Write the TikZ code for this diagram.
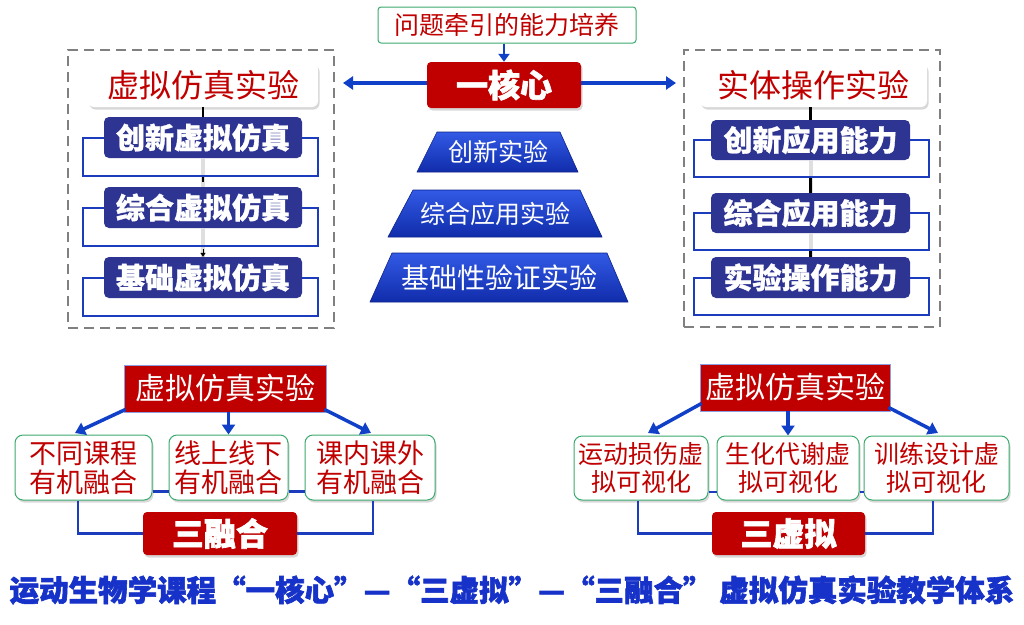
\documentclass[tikz,border=0pt]{standalone}
\usepackage{fontspec}
\setmainfont{Noto Sans CJK SC}
\usetikzlibrary{arrows.meta,shadows,calc}
\definecolor{dred}{RGB}{192,0,0}
\definecolor{navy}{RGB}{46,52,146}
\definecolor{bblue}{RGB}{28,60,190}
\definecolor{ablue}{RGB}{16,64,200}
\definecolor{gbord}{RGB}{60,170,110}
\definecolor{tblue}{RGB}{22,50,200}
\definecolor{trapt}{RGB}{50,90,230}
\definecolor{trapb}{RGB}{16,44,170}
\begin{document}
\begin{tikzpicture}[x=1pt,y=-1pt,
  shad/.style={drop shadow={opacity=0.3,shadow xshift=1.5pt,shadow yshift=-2.5pt}},
  qbox/.style={draw=gbord,line width=1pt,fill=white,rounded corners=3pt,text=dred,inner sep=0pt,font=\fontsize{25}{28}\selectfont},
  corebox/.style={fill=dred,rounded corners=4pt,text=white,inner sep=0pt,shad,font=\fontsize{32}{34}\selectfont\bfseries\addfontfeatures{FakeBold=2}},
  titlebox/.style={fill=white,rounded corners=6pt,shad,text=dred,inner sep=0pt,font=\fontsize{32}{34}\selectfont},
  navybox/.style={fill=navy,rounded corners=5pt,text=white,inner sep=0pt,font=\fontsize{29}{32}\selectfont\bfseries\addfontfeatures{FakeBold=1}},
  bracket/.style={draw=bblue,line width=2pt},
  frame/.style={draw=gray,line width=1.8pt,dash pattern=on 10pt off 6pt},
  redhead/.style={fill=dred,draw=bblue!50,line width=0.8pt,text=white,inner sep=0pt,font=\fontsize{30}{32}\selectfont},
  gbox/.style={draw=gbord,line width=1pt,fill=white,rounded corners=8pt,shad,text=dred,align=center,inner sep=0pt,font=\fontsize{25}{28}\selectfont},
  fusebox/.style={fill=dred,rounded corners=4pt,shad,text=white,inner sep=0pt,font=\fontsize{32}{34}\selectfont\bfseries\addfontfeatures{FakeBold=2}},
  arr/.style={draw=ablue,line width=3.5pt,-{Triangle[length=10pt,width=13pt]}},
  trap/.style={top color=trapt,bottom color=trapb,draw=trapb!80!black,line width=0.6pt},
  traptext/.style={text=white,inner sep=0pt,font=\fontsize{25}{28}\selectfont},
  vlink/.style={draw=black,line width=2.5pt},
  vfaint/.style={draw=gray!25,line width=4pt}
]
\useasboundingbox (0,0) rectangle (1024,624);
\fill[white] (0,0) rectangle (1024,624);

% ---------- top centre ----------
\node[qbox,minimum width=258pt,minimum height=36pt] (q) at (507,25) {问题牵引的能力培养};
\node[corebox,minimum width=154pt,minimum height=46pt] (core) at (504,85) {一核心};
\draw[draw=ablue,line width=2pt,-{Triangle[length=8pt,width=11pt]}] (q.south -| core.north) -- (core.north);
\coordinate (la) at (343,83);
\coordinate (ra) at (676,83);
\draw[arr] (core.west |- la) -- (la);
\draw[arr] (core.east |- ra) -- (ra);

% ---------- left column ----------
\node[frame,minimum width=266pt,minimum height=278pt,inner sep=0pt] (lframe) at (201,189) {};
\node[titlebox,minimum width=230pt,minimum height=44pt] (lt) at (203,85) {虚拟仿真实验};
\node[navybox,minimum width=198pt,minimum height=41pt] (lb1) at (203,137.5) {创新虚拟仿真};
\node[navybox,minimum width=198pt,minimum height=41pt] (lb2) at (203,207.5) {综合虚拟仿真};
\node[navybox,minimum width=198pt,minimum height=41pt] (lb3) at (203,277.5) {基础虚拟仿真};
\draw[vlink] (lt.south) -- (lb1.north);
\draw[vfaint] (lb1.south) -- (lb2.north);
\draw[vlink] ($(lb1.south)+(0,17)$) -- ($(lb1.south)+(0,24)$);
\draw[vfaint] (lb2.south) -- (lb3.north);
\draw[draw=black,line width=1pt,-{Triangle[length=4pt,width=5pt]}] ($(lb2.south)+(0,21)$) -- (lb3.north);
\foreach \b in {lb1,lb2,lb3}{
  \draw[bracket] (\b.west) -- ++(-21,0) -- ++(0,38) -- ++(235,0) -- ++(0,-38) -- (\b.east);
}

% ---------- right column ----------
\node[frame,minimum width=256pt,minimum height=277pt,inner sep=0pt] (rframe) at (812,188.5) {};
\node[titlebox,minimum width=227pt,minimum height=44pt] (rt) at (813.5,85) {实体操作实验};
\node[navybox,minimum width=199pt,minimum height=40pt] (rb1) at (810.5,140) {创新应用能力};
\node[navybox,minimum width=199pt,minimum height=40pt] (rb2) at (810.5,213) {综合应用能力};
\node[navybox,minimum width=199pt,minimum height=41pt] (rb3) at (810.5,277.5) {实验操作能力};
\draw[vlink] (rt.south -| rb1.north) -- (rb1.north);
\draw[vfaint] (rb1.south) -- (rb2.north);
\draw[vlink] ($(rb1.south)+(0,17)$) -- (rb2.north);
\draw[vfaint] (rb2.south) -- (rb3.north);
\draw[vlink] ($(rb2.south)+(0,17)$) -- (rb3.north);
\foreach \b in {rb1,rb2,rb3}{
  \draw[bracket] (\b.west) -- ++(-17,0) -- ++(0,37) -- ++(235,0) -- ++(0,-37) -- (\b.east);
}

% ---------- centre pyramid ----------
\shade[trap] (437,132) -- (560,132) -- (578,172) -- (417,172) -- cycle;
\node[traptext] (t1) at (498,152) {创新实验};
\shade[trap] (413,190) -- (580,190) -- (602,237) -- (388,237) -- cycle;
\node[traptext] (t2) at (495,213.5) {综合应用实验};
\shade[trap] (392,253) -- (607,253) -- (628,302) -- (370,302) -- cycle;
\node[traptext,font=\fontsize{28}{30}\selectfont] (t3) at (499,277.5) {基础性验证实验};

% ---------- bottom left ----------
\node[redhead,minimum width=202pt,minimum height=47pt] (bl) at (225,388.5) {虚拟仿真实验};
\node[gbox,minimum width=137pt,minimum height=65pt,font=\fontsize{27}{29}\selectfont] (g1) at (83.5,467.5) {不同课程\\有机融合};
\node[gbox,minimum width=119pt,minimum height=65pt,font=\fontsize{27}{29}\selectfont] (g2) at (228.5,467.5) {线上线下\\有机融合};
\node[gbox,minimum width=130pt,minimum height=65pt,font=\fontsize{27}{29}\selectfont] (g3) at (370,467.5) {课内课外\\有机融合};
\node[fusebox,minimum width=154pt,minimum height=43pt] (f1) at (220,533.5) {三融合};
\coordinate (g1t) at (75,433);
\coordinate (g3t) at (371,433);
\draw[arr] ($(bl.south west)+(2,-3)$) -- (g1t);
\draw[arr] (bl.south -| g2.north) -- (g2.north);
\draw[arr] ($(bl.south east)+(-2,-3)$) -- (g3t);
\draw[bracket,line width=2.5pt] ($(g1.east)+(0,24)$) -- ($(g2.west)+(0,24)$);
\draw[bracket,line width=2.5pt] ($(g2.east)+(0,24)$) -- ($(g3.west)+(0,24)$);
\draw[bracket,line width=2.5pt] ($(g1.south)+(-5.5,0)$) |- (f1.west);
\draw[bracket,line width=2.5pt] (f1.east) -| ($(g3.south)+(3,0)$);

% ---------- bottom right ----------
\node[redhead,minimum width=190pt,minimum height=47pt] (br) at (795,387.5) {虚拟仿真实验};
\node[gbox,minimum width=134pt,minimum height=64pt] (h1) at (641,468) {运动损伤虚\\拟可视化};
\node[gbox,minimum width=142pt,minimum height=64pt] (h2) at (788,468) {生化代谢虚\\拟可视化};
\node[gbox,minimum width=145pt,minimum height=64pt] (h3) at (936.5,468) {训练设计虚\\拟可视化};
\node[fusebox,minimum width=153pt,minimum height=43pt] (f2) at (788.5,533.5) {三虚拟};
\coordinate (h1t) at (648,433);
\coordinate (h3t) at (938,433);
\draw[arr] ($(br.south west)+(2,-8)$) -- (h1t);
\draw[arr] (br.south -| h2.north) -- (h2.north);
\draw[arr] ($(br.south east)+(-2,-4)$) -- (h3t);
\draw[bracket,line width=2.5pt] ($(h1.east)+(0,24)$) -- ($(h2.west)+(0,24)$);
\draw[bracket,line width=2.5pt] ($(h2.east)+(0,24)$) -- ($(h3.west)+(0,24)$);
\draw[bracket,line width=2.5pt] ($(h1.south)+(-3,0)$) |- (f2.west);
\draw[bracket,line width=2.5pt] (f2.east) -| ($(h3.south)+(-3.5,0)$);

% ---------- caption ----------
\node[text=tblue,inner sep=0pt,font=\fontsize{29.5}{32}\selectfont\bfseries\addfontfeatures{FakeBold=2}] (cap) at (512,590)
  {运动生物学课程“一核心”—“三虚拟”—“三融合” 虚拟仿真实验教学体系};
\end{tikzpicture}
\end{document}
